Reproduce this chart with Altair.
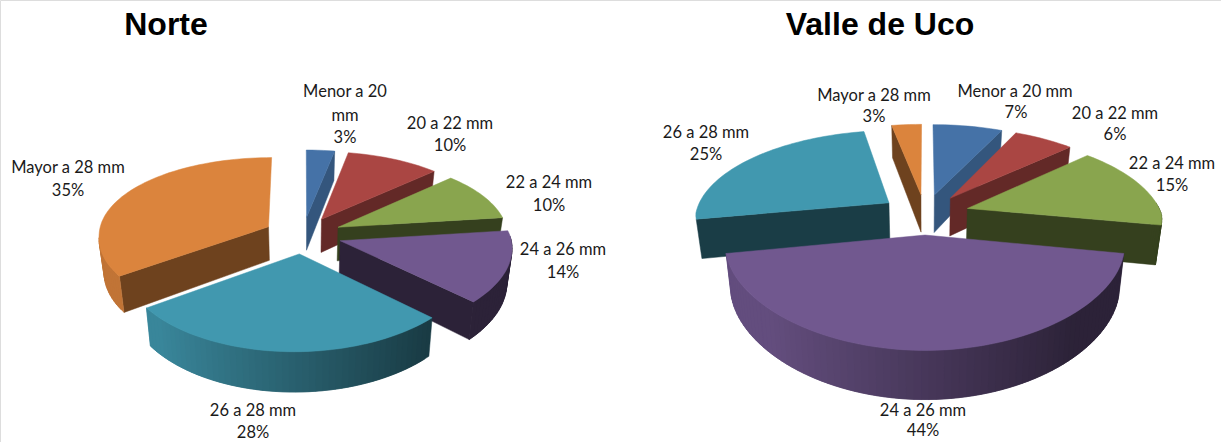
import math
import altair as alt

# Share of each size class, in percent, clockwise from twelve o'clock
categories = ["Menor a 20 mm", "20 a 22 mm", "22 a 24 mm", "24 a 26 mm", "26 a 28 mm", "Mayor a 28 mm"]
norte_pct = [3, 10, 10, 14, 28, 35]
uco_pct = [7, 6, 15, 44, 25, 3]

top_colors = [(69, 114, 167), (170, 70, 67), (137, 165, 78), (113, 88, 143), (65, 152, 175), (219, 132, 61)]
cut_shade = [0.75, 0.58, 0.39, 0.39, 0.40, 0.50]

# Camera set-up of the two exploded pies
norte_view = dict(cx=303, cy=235, rx=170, ry=80, k=0.128, kx_front=0.10, kx_back=0.10, skew=5, h=34, e=0.23, shrink=0.975)
uco_view = dict(cx=925, cy=214, rx=194, ry=88, k=0.168, kx_front=0.10, kx_back=0.18, skew=0, h=39, e=0.23, shrink=0.975)

# Label anchors: line text, x, y
norte_labels = [
    ("Menor a 20", 345, 92), ("mm", 345, 116), ("3%", 345, 138),
    ("20 a 22 mm", 450, 124), ("10%", 450, 146),
    ("22 a 24 mm", 549, 183), ("10%", 549, 206),
    ("24 a 26 mm", 563, 250), ("14%", 563, 273),
    ("26 a 28 mm", 253, 411), ("28%", 253, 433),
    ("Mayor a 28 mm", 68, 168), ("35%", 68, 191),
]
uco_labels = [
    ("Mayor a 28 mm", 874, 96), ("3%", 874, 117),
    ("Menor a 20 mm", 1015, 92), ("7%", 1016, 113),
    ("20 a 22 mm", 1115, 114), ("6%", 1115, 135),
    ("22 a 24 mm", 1172, 164), ("15%", 1172, 186),
    ("26 a 28 mm", 706, 133), ("25%", 706, 155),
    ("24 a 26 mm", 923, 411), ("44%", 923, 431),
]
titles = [("Norte", 166, 25), ("Valle de Uco", 880, 25)]


def rgb(color, factor=1.0):
    return "#%02x%02x%02x" % tuple(int(round(min(255, c * factor))) for c in color)


def project(v, theta, radius, mid, below=False):
    """Perspective position of a point on a slice exploded along its mid angle."""
    px = radius * math.sin(theta) + v["e"] * math.sin(mid)
    py = -radius * math.cos(theta) - v["e"] * math.cos(mid)
    sy = 1 / (1 - v["k"] * py)
    sx = 1 / (1 - (v["kx_front"] if py > 0 else v["kx_back"]) * py)
    x, y = v["rx"] * px * sx - v["skew"] * max(py, 0), v["ry"] * py * sy
    if below:
        x *= v["shrink"]
        y += v["h"] * sy
    return [v["cx"] + x, v["cy"] + y]


def polygon(points, color):
    ring = points + [points[0]]
    return {
        "type": "Feature",
        "geometry": {"type": "Polygon", "coordinates": [ring]},
        "properties": {"color": color},
    }


def faces_viewer(theta):
    return math.cos(theta) < (-0.19 if math.sin(theta) < 0 else 0.05)


def slice_features(values, v):
    total = sum(values)
    slices = []
    start = 0.0
    for i, value in enumerate(values):
        end = start + 2 * math.pi * value / total
        slices.append((i, start, end, (start + end) / 2))
        start = end
    # Paint from the back of the pie towards the viewer
    slices.sort(key=lambda s: -math.cos(s[3]))
    features = []
    for i, t0, t1, mid in slices:
        base = top_colors[i]
        steps = max(2, int((t1 - t0) / math.radians(2)))
        angles = [t0 + (t1 - t0) * n / steps for n in range(steps + 1)]
        cut = rgb(base, cut_shade[i])
        for theta, visible in ((t0, math.sin(t0) < -1e-6), (t1, math.sin(t1) > 1e-6)):
            if visible:
                features.append(polygon([
                    project(v, theta, 0, mid), project(v, theta, 1, mid),
                    project(v, theta, 1, mid, True), project(v, theta, 0, mid, True),
                ], cut))
        # Rim strips overlap the next one, so no hairline shows between them
        for n in range(steps):
            a, b = angles[n], angles[min(n + 2, steps)]
            middle = (angles[n] + angles[n + 1]) / 2
            if faces_viewer(middle):
                shade = min(0.88, max(0.39, 0.63 - 0.34 * math.sin(middle)))
                features.append(polygon([
                    project(v, a, 1, mid), project(v, b, 1, mid),
                    project(v, b, 1, mid, True), project(v, a, 1, mid, True),
                ], rgb(base, shade)))
        rim = [project(v, a, 1, mid) for a in angles]
        features.append(polygon([project(v, 0, 0, mid)] + rim, rgb(base)))
    return features


features = slice_features(norte_pct, norte_view) + slice_features(uco_pct, uco_view)

pies = (
    alt.Chart(alt.Data(values=features))
    .mark_geoshape(strokeWidth=0.5)
    .encode(
        fill=alt.Fill("properties.color:N", scale=None),
        stroke=alt.Stroke("properties.color:N", scale=None),
    )
    .project(type="identity", scale=1, translate=[0, 0])
)

label_rows = [{"t": t, "x": x, "y": y} for t, x, y in norte_labels + uco_labels]
labels = (
    alt.Chart(alt.Data(values=label_rows))
    .mark_text(font="Lato", fontSize=16.5, color="#1a1a1a", align="center", baseline="middle")
    .encode(x=alt.X("x:Q", scale=None, axis=None), y=alt.Y("y:Q", scale=None, axis=None), text="t:N")
)

title_rows = [{"t": t, "x": x, "y": y} for t, x, y in titles]
heads = (
    alt.Chart(alt.Data(values=title_rows))
    .mark_text(font="Liberation Sans", fontSize=32, fontWeight="bold", color="#000000", align="center", baseline="middle")
    .encode(x=alt.X("x:Q", scale=None, axis=None), y=alt.Y("y:Q", scale=None, axis=None), text="t:N")
)

chart = (
    alt.layer(pies, labels, heads)
    .properties(width=1221, height=442, padding=0, autosize=alt.AutoSizeParams(type="none"))
    .configure_view(stroke=None)
    .configure(background="white")
)

chart.save("out.html", embed_options={"renderer": "svg", "actions": False})
